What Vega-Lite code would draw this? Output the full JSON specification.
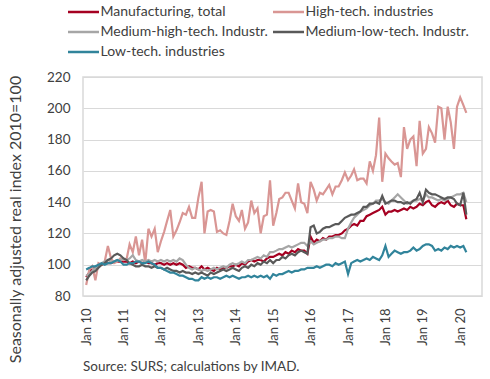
{
"$schema": "https://vega.github.io/schema/vega-lite/v6.json",
"width": 399,
"height": 219,
"autosize": {"type": "none"},
"padding": {"left": 83, "top": 77, "right": 8, "bottom": 83},
"config": {
  "font": "Lato",
  "view": {"stroke": "#D9D9D9", "strokeWidth": 1.5},
  "axis": {"labelColor": "#404040", "titleColor": "#404040", "domain": false, "ticks": false, "gridColor": "#D9D9D9", "gridWidth": 1.2}
},
"title": {"text": "Source: SURS; calculations by IMAD.", "orient": "bottom", "anchor": "start", "frame": "group", "fontSize": 13.5, "fontWeight": "normal", "color": "#404040", "offset": -3},
"data": {"values": [
{"t":"2010-01","s":"Manufacturing, total","v":92},{"t":"2010-02","s":"Manufacturing, total","v":95},{"t":"2010-03","s":"Manufacturing, total","v":98},{"t":"2010-04","s":"Manufacturing, total","v":98},{"t":"2010-05","s":"Manufacturing, total","v":99},{"t":"2010-06","s":"Manufacturing, total","v":100},{"t":"2010-07","s":"Manufacturing, total","v":101},{"t":"2010-08","s":"Manufacturing, total","v":101},{"t":"2010-09","s":"Manufacturing, total","v":101},{"t":"2010-10","s":"Manufacturing, total","v":102},{"t":"2010-11","s":"Manufacturing, total","v":102},{"t":"2010-12","s":"Manufacturing, total","v":102},
{"t":"2011-01","s":"Manufacturing, total","v":102},{"t":"2011-02","s":"Manufacturing, total","v":102},{"t":"2011-03","s":"Manufacturing, total","v":101},{"t":"2011-04","s":"Manufacturing, total","v":102},{"t":"2011-05","s":"Manufacturing, total","v":101},{"t":"2011-06","s":"Manufacturing, total","v":102},{"t":"2011-07","s":"Manufacturing, total","v":101},{"t":"2011-08","s":"Manufacturing, total","v":102},{"t":"2011-09","s":"Manufacturing, total","v":101},{"t":"2011-10","s":"Manufacturing, total","v":101},{"t":"2011-11","s":"Manufacturing, total","v":100},{"t":"2011-12","s":"Manufacturing, total","v":101},
{"t":"2012-01","s":"Manufacturing, total","v":101},{"t":"2012-02","s":"Manufacturing, total","v":100},{"t":"2012-03","s":"Manufacturing, total","v":101},{"t":"2012-04","s":"Manufacturing, total","v":100},{"t":"2012-05","s":"Manufacturing, total","v":101},{"t":"2012-06","s":"Manufacturing, total","v":100},{"t":"2012-07","s":"Manufacturing, total","v":101},{"t":"2012-08","s":"Manufacturing, total","v":100},{"t":"2012-09","s":"Manufacturing, total","v":98},{"t":"2012-10","s":"Manufacturing, total","v":99},{"t":"2012-11","s":"Manufacturing, total","v":98},{"t":"2012-12","s":"Manufacturing, total","v":98},
{"t":"2013-01","s":"Manufacturing, total","v":97},{"t":"2013-02","s":"Manufacturing, total","v":99},{"t":"2013-03","s":"Manufacturing, total","v":97},{"t":"2013-04","s":"Manufacturing, total","v":98},{"t":"2013-05","s":"Manufacturing, total","v":97},{"t":"2013-06","s":"Manufacturing, total","v":96},{"t":"2013-07","s":"Manufacturing, total","v":98},{"t":"2013-08","s":"Manufacturing, total","v":97},{"t":"2013-09","s":"Manufacturing, total","v":98},{"t":"2013-10","s":"Manufacturing, total","v":98},{"t":"2013-11","s":"Manufacturing, total","v":99},{"t":"2013-12","s":"Manufacturing, total","v":99},
{"t":"2014-01","s":"Manufacturing, total","v":100},{"t":"2014-02","s":"Manufacturing, total","v":99},{"t":"2014-03","s":"Manufacturing, total","v":101},{"t":"2014-04","s":"Manufacturing, total","v":100},{"t":"2014-05","s":"Manufacturing, total","v":102},{"t":"2014-06","s":"Manufacturing, total","v":103},{"t":"2014-07","s":"Manufacturing, total","v":102},{"t":"2014-08","s":"Manufacturing, total","v":103},{"t":"2014-09","s":"Manufacturing, total","v":103},{"t":"2014-10","s":"Manufacturing, total","v":102},{"t":"2014-11","s":"Manufacturing, total","v":104},{"t":"2014-12","s":"Manufacturing, total","v":105},
{"t":"2015-01","s":"Manufacturing, total","v":105},{"t":"2015-02","s":"Manufacturing, total","v":106},{"t":"2015-03","s":"Manufacturing, total","v":107},{"t":"2015-04","s":"Manufacturing, total","v":106},{"t":"2015-05","s":"Manufacturing, total","v":108},{"t":"2015-06","s":"Manufacturing, total","v":107},{"t":"2015-07","s":"Manufacturing, total","v":109},{"t":"2015-08","s":"Manufacturing, total","v":108},{"t":"2015-09","s":"Manufacturing, total","v":110},{"t":"2015-10","s":"Manufacturing, total","v":109},{"t":"2015-11","s":"Manufacturing, total","v":109},{"t":"2015-12","s":"Manufacturing, total","v":107},
{"t":"2016-01","s":"Manufacturing, total","v":118},{"t":"2016-02","s":"Manufacturing, total","v":114},{"t":"2016-03","s":"Manufacturing, total","v":116},{"t":"2016-04","s":"Manufacturing, total","v":115},{"t":"2016-05","s":"Manufacturing, total","v":117},{"t":"2016-06","s":"Manufacturing, total","v":116},{"t":"2016-07","s":"Manufacturing, total","v":118},{"t":"2016-08","s":"Manufacturing, total","v":118},{"t":"2016-09","s":"Manufacturing, total","v":119},{"t":"2016-10","s":"Manufacturing, total","v":119},{"t":"2016-11","s":"Manufacturing, total","v":120},{"t":"2016-12","s":"Manufacturing, total","v":122},
{"t":"2017-01","s":"Manufacturing, total","v":123},{"t":"2017-02","s":"Manufacturing, total","v":125},{"t":"2017-03","s":"Manufacturing, total","v":126},{"t":"2017-04","s":"Manufacturing, total","v":125},{"t":"2017-05","s":"Manufacturing, total","v":128},{"t":"2017-06","s":"Manufacturing, total","v":128},{"t":"2017-07","s":"Manufacturing, total","v":131},{"t":"2017-08","s":"Manufacturing, total","v":132},{"t":"2017-09","s":"Manufacturing, total","v":133},{"t":"2017-10","s":"Manufacturing, total","v":134},{"t":"2017-11","s":"Manufacturing, total","v":135},{"t":"2017-12","s":"Manufacturing, total","v":137},
{"t":"2018-01","s":"Manufacturing, total","v":132},{"t":"2018-02","s":"Manufacturing, total","v":134},{"t":"2018-03","s":"Manufacturing, total","v":134},{"t":"2018-04","s":"Manufacturing, total","v":135},{"t":"2018-05","s":"Manufacturing, total","v":134},{"t":"2018-06","s":"Manufacturing, total","v":135},{"t":"2018-07","s":"Manufacturing, total","v":136},{"t":"2018-08","s":"Manufacturing, total","v":135},{"t":"2018-09","s":"Manufacturing, total","v":137},{"t":"2018-10","s":"Manufacturing, total","v":136},{"t":"2018-11","s":"Manufacturing, total","v":137},{"t":"2018-12","s":"Manufacturing, total","v":139},
{"t":"2019-01","s":"Manufacturing, total","v":138},{"t":"2019-02","s":"Manufacturing, total","v":140},{"t":"2019-03","s":"Manufacturing, total","v":141},{"t":"2019-04","s":"Manufacturing, total","v":138},{"t":"2019-05","s":"Manufacturing, total","v":137},{"t":"2019-06","s":"Manufacturing, total","v":139},{"t":"2019-07","s":"Manufacturing, total","v":140},{"t":"2019-08","s":"Manufacturing, total","v":139},{"t":"2019-09","s":"Manufacturing, total","v":141},{"t":"2019-10","s":"Manufacturing, total","v":138},{"t":"2019-11","s":"Manufacturing, total","v":137},{"t":"2019-12","s":"Manufacturing, total","v":139},
{"t":"2020-01","s":"Manufacturing, total","v":138},{"t":"2020-02","s":"Manufacturing, total","v":138},{"t":"2020-03","s":"Manufacturing, total","v":129},
{"t":"2010-01","s":"High-tech. industries","v":87},{"t":"2010-02","s":"High-tech. industries","v":97},{"t":"2010-03","s":"High-tech. industries","v":99},{"t":"2010-04","s":"High-tech. industries","v":90},{"t":"2010-05","s":"High-tech. industries","v":101},{"t":"2010-06","s":"High-tech. industries","v":100},{"t":"2010-07","s":"High-tech. industries","v":102},{"t":"2010-08","s":"High-tech. industries","v":112},{"t":"2010-09","s":"High-tech. industries","v":104},{"t":"2010-10","s":"High-tech. industries","v":101},{"t":"2010-11","s":"High-tech. industries","v":102},{"t":"2010-12","s":"High-tech. industries","v":104},
{"t":"2011-01","s":"High-tech. industries","v":103},{"t":"2011-02","s":"High-tech. industries","v":104},{"t":"2011-03","s":"High-tech. industries","v":113},{"t":"2011-04","s":"High-tech. industries","v":108},{"t":"2011-05","s":"High-tech. industries","v":118},{"t":"2011-06","s":"High-tech. industries","v":106},{"t":"2011-07","s":"High-tech. industries","v":116},{"t":"2011-08","s":"High-tech. industries","v":101},{"t":"2011-09","s":"High-tech. industries","v":123},{"t":"2011-10","s":"High-tech. industries","v":118},{"t":"2011-11","s":"High-tech. industries","v":123},{"t":"2011-12","s":"High-tech. industries","v":108},
{"t":"2012-01","s":"High-tech. industries","v":115},{"t":"2012-02","s":"High-tech. industries","v":121},{"t":"2012-03","s":"High-tech. industries","v":128},{"t":"2012-04","s":"High-tech. industries","v":135},{"t":"2012-05","s":"High-tech. industries","v":118},{"t":"2012-06","s":"High-tech. industries","v":122},{"t":"2012-07","s":"High-tech. industries","v":127},{"t":"2012-08","s":"High-tech. industries","v":133},{"t":"2012-09","s":"High-tech. industries","v":132},{"t":"2012-10","s":"High-tech. industries","v":137},{"t":"2012-11","s":"High-tech. industries","v":130},{"t":"2012-12","s":"High-tech. industries","v":130},
{"t":"2013-01","s":"High-tech. industries","v":143},{"t":"2013-02","s":"High-tech. industries","v":153},{"t":"2013-03","s":"High-tech. industries","v":120},{"t":"2013-04","s":"High-tech. industries","v":134},{"t":"2013-05","s":"High-tech. industries","v":135},{"t":"2013-06","s":"High-tech. industries","v":134},{"t":"2013-07","s":"High-tech. industries","v":121},{"t":"2013-08","s":"High-tech. industries","v":122},{"t":"2013-09","s":"High-tech. industries","v":120},{"t":"2013-10","s":"High-tech. industries","v":119},{"t":"2013-11","s":"High-tech. industries","v":128},{"t":"2013-12","s":"High-tech. industries","v":139},
{"t":"2014-01","s":"High-tech. industries","v":131},{"t":"2014-02","s":"High-tech. industries","v":128},{"t":"2014-03","s":"High-tech. industries","v":135},{"t":"2014-04","s":"High-tech. industries","v":123},{"t":"2014-05","s":"High-tech. industries","v":127},{"t":"2014-06","s":"High-tech. industries","v":141},{"t":"2014-07","s":"High-tech. industries","v":133},{"t":"2014-08","s":"High-tech. industries","v":136},{"t":"2014-09","s":"High-tech. industries","v":120},{"t":"2014-10","s":"High-tech. industries","v":131},{"t":"2014-11","s":"High-tech. industries","v":132},{"t":"2014-12","s":"High-tech. industries","v":154},
{"t":"2015-01","s":"High-tech. industries","v":125},{"t":"2015-02","s":"High-tech. industries","v":133},{"t":"2015-03","s":"High-tech. industries","v":142},{"t":"2015-04","s":"High-tech. industries","v":143},{"t":"2015-05","s":"High-tech. industries","v":146},{"t":"2015-06","s":"High-tech. industries","v":146},{"t":"2015-07","s":"High-tech. industries","v":141},{"t":"2015-08","s":"High-tech. industries","v":136},{"t":"2015-09","s":"High-tech. industries","v":152},{"t":"2015-10","s":"High-tech. industries","v":140},{"t":"2015-11","s":"High-tech. industries","v":139},{"t":"2015-12","s":"High-tech. industries","v":133},
{"t":"2016-01","s":"High-tech. industries","v":153},{"t":"2016-02","s":"High-tech. industries","v":148},{"t":"2016-03","s":"High-tech. industries","v":141},{"t":"2016-04","s":"High-tech. industries","v":146},{"t":"2016-05","s":"High-tech. industries","v":145},{"t":"2016-06","s":"High-tech. industries","v":148},{"t":"2016-07","s":"High-tech. industries","v":151},{"t":"2016-08","s":"High-tech. industries","v":145},{"t":"2016-09","s":"High-tech. industries","v":150},{"t":"2016-10","s":"High-tech. industries","v":150},{"t":"2016-11","s":"High-tech. industries","v":154},{"t":"2016-12","s":"High-tech. industries","v":159},
{"t":"2017-01","s":"High-tech. industries","v":154},{"t":"2017-02","s":"High-tech. industries","v":157},{"t":"2017-03","s":"High-tech. industries","v":161},{"t":"2017-04","s":"High-tech. industries","v":154},{"t":"2017-05","s":"High-tech. industries","v":155},{"t":"2017-06","s":"High-tech. industries","v":155},{"t":"2017-07","s":"High-tech. industries","v":152},{"t":"2017-08","s":"High-tech. industries","v":166},{"t":"2017-09","s":"High-tech. industries","v":160},{"t":"2017-10","s":"High-tech. industries","v":170},{"t":"2017-11","s":"High-tech. industries","v":194},{"t":"2017-12","s":"High-tech. industries","v":153},
{"t":"2018-01","s":"High-tech. industries","v":171},{"t":"2018-02","s":"High-tech. industries","v":168},{"t":"2018-03","s":"High-tech. industries","v":166},{"t":"2018-04","s":"High-tech. industries","v":164},{"t":"2018-05","s":"High-tech. industries","v":165},{"t":"2018-06","s":"High-tech. industries","v":156},{"t":"2018-07","s":"High-tech. industries","v":188},{"t":"2018-08","s":"High-tech. industries","v":174},{"t":"2018-09","s":"High-tech. industries","v":180},{"t":"2018-10","s":"High-tech. industries","v":182},{"t":"2018-11","s":"High-tech. industries","v":163},{"t":"2018-12","s":"High-tech. industries","v":192},
{"t":"2019-01","s":"High-tech. industries","v":171},{"t":"2019-02","s":"High-tech. industries","v":174},{"t":"2019-03","s":"High-tech. industries","v":188},{"t":"2019-04","s":"High-tech. industries","v":184},{"t":"2019-05","s":"High-tech. industries","v":178},{"t":"2019-06","s":"High-tech. industries","v":201},{"t":"2019-07","s":"High-tech. industries","v":200},{"t":"2019-08","s":"High-tech. industries","v":180},{"t":"2019-09","s":"High-tech. industries","v":201},{"t":"2019-10","s":"High-tech. industries","v":191},{"t":"2019-11","s":"High-tech. industries","v":174},{"t":"2019-12","s":"High-tech. industries","v":201},
{"t":"2020-01","s":"High-tech. industries","v":207},{"t":"2020-02","s":"High-tech. industries","v":202},{"t":"2020-03","s":"High-tech. industries","v":197},
{"t":"2010-01","s":"Medium-high-tech. Industr.","v":93},{"t":"2010-02","s":"Medium-high-tech. Industr.","v":94},{"t":"2010-03","s":"Medium-high-tech. Industr.","v":96},{"t":"2010-04","s":"Medium-high-tech. Industr.","v":98},{"t":"2010-05","s":"Medium-high-tech. Industr.","v":99},{"t":"2010-06","s":"Medium-high-tech. Industr.","v":101},{"t":"2010-07","s":"Medium-high-tech. Industr.","v":102},{"t":"2010-08","s":"Medium-high-tech. Industr.","v":103},{"t":"2010-09","s":"Medium-high-tech. Industr.","v":102},{"t":"2010-10","s":"Medium-high-tech. Industr.","v":102},{"t":"2010-11","s":"Medium-high-tech. Industr.","v":103},{"t":"2010-12","s":"Medium-high-tech. Industr.","v":103},
{"t":"2011-01","s":"Medium-high-tech. Industr.","v":104},{"t":"2011-02","s":"Medium-high-tech. Industr.","v":103},{"t":"2011-03","s":"Medium-high-tech. Industr.","v":104},{"t":"2011-04","s":"Medium-high-tech. Industr.","v":106},{"t":"2011-05","s":"Medium-high-tech. Industr.","v":103},{"t":"2011-06","s":"Medium-high-tech. Industr.","v":102},{"t":"2011-07","s":"Medium-high-tech. Industr.","v":103},{"t":"2011-08","s":"Medium-high-tech. Industr.","v":102},{"t":"2011-09","s":"Medium-high-tech. Industr.","v":103},{"t":"2011-10","s":"Medium-high-tech. Industr.","v":102},{"t":"2011-11","s":"Medium-high-tech. Industr.","v":103},{"t":"2011-12","s":"Medium-high-tech. Industr.","v":102},
{"t":"2012-01","s":"Medium-high-tech. Industr.","v":103},{"t":"2012-02","s":"Medium-high-tech. Industr.","v":102},{"t":"2012-03","s":"Medium-high-tech. Industr.","v":103},{"t":"2012-04","s":"Medium-high-tech. Industr.","v":102},{"t":"2012-05","s":"Medium-high-tech. Industr.","v":103},{"t":"2012-06","s":"Medium-high-tech. Industr.","v":102},{"t":"2012-07","s":"Medium-high-tech. Industr.","v":104},{"t":"2012-08","s":"Medium-high-tech. Industr.","v":103},{"t":"2012-09","s":"Medium-high-tech. Industr.","v":100},{"t":"2012-10","s":"Medium-high-tech. Industr.","v":98},{"t":"2012-11","s":"Medium-high-tech. Industr.","v":97},{"t":"2012-12","s":"Medium-high-tech. Industr.","v":98},
{"t":"2013-01","s":"Medium-high-tech. Industr.","v":97},{"t":"2013-02","s":"Medium-high-tech. Industr.","v":96},{"t":"2013-03","s":"Medium-high-tech. Industr.","v":97},{"t":"2013-04","s":"Medium-high-tech. Industr.","v":96},{"t":"2013-05","s":"Medium-high-tech. Industr.","v":97},{"t":"2013-06","s":"Medium-high-tech. Industr.","v":98},{"t":"2013-07","s":"Medium-high-tech. Industr.","v":97},{"t":"2013-08","s":"Medium-high-tech. Industr.","v":98},{"t":"2013-09","s":"Medium-high-tech. Industr.","v":99},{"t":"2013-10","s":"Medium-high-tech. Industr.","v":98},{"t":"2013-11","s":"Medium-high-tech. Industr.","v":100},{"t":"2013-12","s":"Medium-high-tech. Industr.","v":101},
{"t":"2014-01","s":"Medium-high-tech. Industr.","v":100},{"t":"2014-02","s":"Medium-high-tech. Industr.","v":101},{"t":"2014-03","s":"Medium-high-tech. Industr.","v":102},{"t":"2014-04","s":"Medium-high-tech. Industr.","v":101},{"t":"2014-05","s":"Medium-high-tech. Industr.","v":103},{"t":"2014-06","s":"Medium-high-tech. Industr.","v":103},{"t":"2014-07","s":"Medium-high-tech. Industr.","v":104},{"t":"2014-08","s":"Medium-high-tech. Industr.","v":105},{"t":"2014-09","s":"Medium-high-tech. Industr.","v":104},{"t":"2014-10","s":"Medium-high-tech. Industr.","v":106},{"t":"2014-11","s":"Medium-high-tech. Industr.","v":105},{"t":"2014-12","s":"Medium-high-tech. Industr.","v":108},
{"t":"2015-01","s":"Medium-high-tech. Industr.","v":108},{"t":"2015-02","s":"Medium-high-tech. Industr.","v":109},{"t":"2015-03","s":"Medium-high-tech. Industr.","v":110},{"t":"2015-04","s":"Medium-high-tech. Industr.","v":110},{"t":"2015-05","s":"Medium-high-tech. Industr.","v":111},{"t":"2015-06","s":"Medium-high-tech. Industr.","v":112},{"t":"2015-07","s":"Medium-high-tech. Industr.","v":111},{"t":"2015-08","s":"Medium-high-tech. Industr.","v":112},{"t":"2015-09","s":"Medium-high-tech. Industr.","v":113},{"t":"2015-10","s":"Medium-high-tech. Industr.","v":114},{"t":"2015-11","s":"Medium-high-tech. Industr.","v":114},{"t":"2015-12","s":"Medium-high-tech. Industr.","v":112},
{"t":"2016-01","s":"Medium-high-tech. Industr.","v":115},{"t":"2016-02","s":"Medium-high-tech. Industr.","v":113},{"t":"2016-03","s":"Medium-high-tech. Industr.","v":114},{"t":"2016-04","s":"Medium-high-tech. Industr.","v":115},{"t":"2016-05","s":"Medium-high-tech. Industr.","v":116},{"t":"2016-06","s":"Medium-high-tech. Industr.","v":116},{"t":"2016-07","s":"Medium-high-tech. Industr.","v":117},{"t":"2016-08","s":"Medium-high-tech. Industr.","v":117},{"t":"2016-09","s":"Medium-high-tech. Industr.","v":118},{"t":"2016-10","s":"Medium-high-tech. Industr.","v":118},{"t":"2016-11","s":"Medium-high-tech. Industr.","v":117},{"t":"2016-12","s":"Medium-high-tech. Industr.","v":117},
{"t":"2017-01","s":"Medium-high-tech. Industr.","v":123},{"t":"2017-02","s":"Medium-high-tech. Industr.","v":127},{"t":"2017-03","s":"Medium-high-tech. Industr.","v":130},{"t":"2017-04","s":"Medium-high-tech. Industr.","v":132},{"t":"2017-05","s":"Medium-high-tech. Industr.","v":134},{"t":"2017-06","s":"Medium-high-tech. Industr.","v":135},{"t":"2017-07","s":"Medium-high-tech. Industr.","v":136},{"t":"2017-08","s":"Medium-high-tech. Industr.","v":138},{"t":"2017-09","s":"Medium-high-tech. Industr.","v":139},{"t":"2017-10","s":"Medium-high-tech. Industr.","v":141},{"t":"2017-11","s":"Medium-high-tech. Industr.","v":141},{"t":"2017-12","s":"Medium-high-tech. Industr.","v":142},
{"t":"2018-01","s":"Medium-high-tech. Industr.","v":140},{"t":"2018-02","s":"Medium-high-tech. Industr.","v":139},{"t":"2018-03","s":"Medium-high-tech. Industr.","v":141},{"t":"2018-04","s":"Medium-high-tech. Industr.","v":143},{"t":"2018-05","s":"Medium-high-tech. Industr.","v":145},{"t":"2018-06","s":"Medium-high-tech. Industr.","v":143},{"t":"2018-07","s":"Medium-high-tech. Industr.","v":141},{"t":"2018-08","s":"Medium-high-tech. Industr.","v":139},{"t":"2018-09","s":"Medium-high-tech. Industr.","v":140},{"t":"2018-10","s":"Medium-high-tech. Industr.","v":141},{"t":"2018-11","s":"Medium-high-tech. Industr.","v":141},{"t":"2018-12","s":"Medium-high-tech. Industr.","v":142},
{"t":"2019-01","s":"Medium-high-tech. Industr.","v":141},{"t":"2019-02","s":"Medium-high-tech. Industr.","v":145},{"t":"2019-03","s":"Medium-high-tech. Industr.","v":143},{"t":"2019-04","s":"Medium-high-tech. Industr.","v":143},{"t":"2019-05","s":"Medium-high-tech. Industr.","v":142},{"t":"2019-06","s":"Medium-high-tech. Industr.","v":141},{"t":"2019-07","s":"Medium-high-tech. Industr.","v":142},{"t":"2019-08","s":"Medium-high-tech. Industr.","v":141},{"t":"2019-09","s":"Medium-high-tech. Industr.","v":142},{"t":"2019-10","s":"Medium-high-tech. Industr.","v":143},{"t":"2019-11","s":"Medium-high-tech. Industr.","v":144},{"t":"2019-12","s":"Medium-high-tech. Industr.","v":145},
{"t":"2020-01","s":"Medium-high-tech. Industr.","v":145},{"t":"2020-02","s":"Medium-high-tech. Industr.","v":146},{"t":"2020-03","s":"Medium-high-tech. Industr.","v":140},
{"t":"2010-01","s":"Medium-low-tech. Industr.","v":90},{"t":"2010-02","s":"Medium-low-tech. Industr.","v":93},{"t":"2010-03","s":"Medium-low-tech. Industr.","v":95},{"t":"2010-04","s":"Medium-low-tech. Industr.","v":96},{"t":"2010-05","s":"Medium-low-tech. Industr.","v":98},{"t":"2010-06","s":"Medium-low-tech. Industr.","v":100},{"t":"2010-07","s":"Medium-low-tech. Industr.","v":101},{"t":"2010-08","s":"Medium-low-tech. Industr.","v":103},{"t":"2010-09","s":"Medium-low-tech. Industr.","v":104},{"t":"2010-10","s":"Medium-low-tech. Industr.","v":106},{"t":"2010-11","s":"Medium-low-tech. Industr.","v":107},{"t":"2010-12","s":"Medium-low-tech. Industr.","v":106},
{"t":"2011-01","s":"Medium-low-tech. Industr.","v":104},{"t":"2011-02","s":"Medium-low-tech. Industr.","v":103},{"t":"2011-03","s":"Medium-low-tech. Industr.","v":101},{"t":"2011-04","s":"Medium-low-tech. Industr.","v":100},{"t":"2011-05","s":"Medium-low-tech. Industr.","v":99},{"t":"2011-06","s":"Medium-low-tech. Industr.","v":99},{"t":"2011-07","s":"Medium-low-tech. Industr.","v":100},{"t":"2011-08","s":"Medium-low-tech. Industr.","v":99},{"t":"2011-09","s":"Medium-low-tech. Industr.","v":99},{"t":"2011-10","s":"Medium-low-tech. Industr.","v":98},{"t":"2011-11","s":"Medium-low-tech. Industr.","v":99},{"t":"2011-12","s":"Medium-low-tech. Industr.","v":98},
{"t":"2012-01","s":"Medium-low-tech. Industr.","v":98},{"t":"2012-02","s":"Medium-low-tech. Industr.","v":97},{"t":"2012-03","s":"Medium-low-tech. Industr.","v":98},{"t":"2012-04","s":"Medium-low-tech. Industr.","v":97},{"t":"2012-05","s":"Medium-low-tech. Industr.","v":96},{"t":"2012-06","s":"Medium-low-tech. Industr.","v":96},{"t":"2012-07","s":"Medium-low-tech. Industr.","v":95},{"t":"2012-08","s":"Medium-low-tech. Industr.","v":96},{"t":"2012-09","s":"Medium-low-tech. Industr.","v":95},{"t":"2012-10","s":"Medium-low-tech. Industr.","v":95},{"t":"2012-11","s":"Medium-low-tech. Industr.","v":94},{"t":"2012-12","s":"Medium-low-tech. Industr.","v":95},
{"t":"2013-01","s":"Medium-low-tech. Industr.","v":94},{"t":"2013-02","s":"Medium-low-tech. Industr.","v":95},{"t":"2013-03","s":"Medium-low-tech. Industr.","v":94},{"t":"2013-04","s":"Medium-low-tech. Industr.","v":93},{"t":"2013-05","s":"Medium-low-tech. Industr.","v":95},{"t":"2013-06","s":"Medium-low-tech. Industr.","v":94},{"t":"2013-07","s":"Medium-low-tech. Industr.","v":95},{"t":"2013-08","s":"Medium-low-tech. Industr.","v":96},{"t":"2013-09","s":"Medium-low-tech. Industr.","v":97},{"t":"2013-10","s":"Medium-low-tech. Industr.","v":96},{"t":"2013-11","s":"Medium-low-tech. Industr.","v":97},{"t":"2013-12","s":"Medium-low-tech. Industr.","v":98},
{"t":"2014-01","s":"Medium-low-tech. Industr.","v":97},{"t":"2014-02","s":"Medium-low-tech. Industr.","v":96},{"t":"2014-03","s":"Medium-low-tech. Industr.","v":98},{"t":"2014-04","s":"Medium-low-tech. Industr.","v":99},{"t":"2014-05","s":"Medium-low-tech. Industr.","v":98},{"t":"2014-06","s":"Medium-low-tech. Industr.","v":100},{"t":"2014-07","s":"Medium-low-tech. Industr.","v":99},{"t":"2014-08","s":"Medium-low-tech. Industr.","v":101},{"t":"2014-09","s":"Medium-low-tech. Industr.","v":100},{"t":"2014-10","s":"Medium-low-tech. Industr.","v":102},{"t":"2014-11","s":"Medium-low-tech. Industr.","v":101},{"t":"2014-12","s":"Medium-low-tech. Industr.","v":103},
{"t":"2015-01","s":"Medium-low-tech. Industr.","v":101},{"t":"2015-02","s":"Medium-low-tech. Industr.","v":103},{"t":"2015-03","s":"Medium-low-tech. Industr.","v":103},{"t":"2015-04","s":"Medium-low-tech. Industr.","v":105},{"t":"2015-05","s":"Medium-low-tech. Industr.","v":104},{"t":"2015-06","s":"Medium-low-tech. Industr.","v":106},{"t":"2015-07","s":"Medium-low-tech. Industr.","v":107},{"t":"2015-08","s":"Medium-low-tech. Industr.","v":106},{"t":"2015-09","s":"Medium-low-tech. Industr.","v":108},{"t":"2015-10","s":"Medium-low-tech. Industr.","v":109},{"t":"2015-11","s":"Medium-low-tech. Industr.","v":108},{"t":"2015-12","s":"Medium-low-tech. Industr.","v":107},
{"t":"2016-01","s":"Medium-low-tech. Industr.","v":124},{"t":"2016-02","s":"Medium-low-tech. Industr.","v":125},{"t":"2016-03","s":"Medium-low-tech. Industr.","v":120},{"t":"2016-04","s":"Medium-low-tech. Industr.","v":121},{"t":"2016-05","s":"Medium-low-tech. Industr.","v":123},{"t":"2016-06","s":"Medium-low-tech. Industr.","v":124},{"t":"2016-07","s":"Medium-low-tech. Industr.","v":124},{"t":"2016-08","s":"Medium-low-tech. Industr.","v":125},{"t":"2016-09","s":"Medium-low-tech. Industr.","v":126},{"t":"2016-10","s":"Medium-low-tech. Industr.","v":126},{"t":"2016-11","s":"Medium-low-tech. Industr.","v":128},{"t":"2016-12","s":"Medium-low-tech. Industr.","v":130},
{"t":"2017-01","s":"Medium-low-tech. Industr.","v":131},{"t":"2017-02","s":"Medium-low-tech. Industr.","v":132},{"t":"2017-03","s":"Medium-low-tech. Industr.","v":132},{"t":"2017-04","s":"Medium-low-tech. Industr.","v":133},{"t":"2017-05","s":"Medium-low-tech. Industr.","v":134},{"t":"2017-06","s":"Medium-low-tech. Industr.","v":137},{"t":"2017-07","s":"Medium-low-tech. Industr.","v":137},{"t":"2017-08","s":"Medium-low-tech. Industr.","v":139},{"t":"2017-09","s":"Medium-low-tech. Industr.","v":139},{"t":"2017-10","s":"Medium-low-tech. Industr.","v":140},{"t":"2017-11","s":"Medium-low-tech. Industr.","v":139},{"t":"2017-12","s":"Medium-low-tech. Industr.","v":144},
{"t":"2018-01","s":"Medium-low-tech. Industr.","v":139},{"t":"2018-02","s":"Medium-low-tech. Industr.","v":140},{"t":"2018-03","s":"Medium-low-tech. Industr.","v":141},{"t":"2018-04","s":"Medium-low-tech. Industr.","v":141},{"t":"2018-05","s":"Medium-low-tech. Industr.","v":140},{"t":"2018-06","s":"Medium-low-tech. Industr.","v":140},{"t":"2018-07","s":"Medium-low-tech. Industr.","v":139},{"t":"2018-08","s":"Medium-low-tech. Industr.","v":140},{"t":"2018-09","s":"Medium-low-tech. Industr.","v":139},{"t":"2018-10","s":"Medium-low-tech. Industr.","v":141},{"t":"2018-11","s":"Medium-low-tech. Industr.","v":142},{"t":"2018-12","s":"Medium-low-tech. Industr.","v":146},
{"t":"2019-01","s":"Medium-low-tech. Industr.","v":140},{"t":"2019-02","s":"Medium-low-tech. Industr.","v":148},{"t":"2019-03","s":"Medium-low-tech. Industr.","v":146},{"t":"2019-04","s":"Medium-low-tech. Industr.","v":145},{"t":"2019-05","s":"Medium-low-tech. Industr.","v":145},{"t":"2019-06","s":"Medium-low-tech. Industr.","v":144},{"t":"2019-07","s":"Medium-low-tech. Industr.","v":143},{"t":"2019-08","s":"Medium-low-tech. Industr.","v":142},{"t":"2019-09","s":"Medium-low-tech. Industr.","v":143},{"t":"2019-10","s":"Medium-low-tech. Industr.","v":143},{"t":"2019-11","s":"Medium-low-tech. Industr.","v":142},{"t":"2019-12","s":"Medium-low-tech. Industr.","v":139},
{"t":"2020-01","s":"Medium-low-tech. Industr.","v":138},{"t":"2020-02","s":"Medium-low-tech. Industr.","v":146},{"t":"2020-03","s":"Medium-low-tech. Industr.","v":132},
{"t":"2010-01","s":"Low-tech. industries","v":97},{"t":"2010-02","s":"Low-tech. industries","v":98},{"t":"2010-03","s":"Low-tech. industries","v":99},{"t":"2010-04","s":"Low-tech. industries","v":99},{"t":"2010-05","s":"Low-tech. industries","v":100},{"t":"2010-06","s":"Low-tech. industries","v":101},{"t":"2010-07","s":"Low-tech. industries","v":100},{"t":"2010-08","s":"Low-tech. industries","v":101},{"t":"2010-09","s":"Low-tech. industries","v":101},{"t":"2010-10","s":"Low-tech. industries","v":102},{"t":"2010-11","s":"Low-tech. industries","v":103},{"t":"2010-12","s":"Low-tech. industries","v":102},
{"t":"2011-01","s":"Low-tech. industries","v":100},{"t":"2011-02","s":"Low-tech. industries","v":100},{"t":"2011-03","s":"Low-tech. industries","v":101},{"t":"2011-04","s":"Low-tech. industries","v":101},{"t":"2011-05","s":"Low-tech. industries","v":102},{"t":"2011-06","s":"Low-tech. industries","v":102},{"t":"2011-07","s":"Low-tech. industries","v":101},{"t":"2011-08","s":"Low-tech. industries","v":101},{"t":"2011-09","s":"Low-tech. industries","v":102},{"t":"2011-10","s":"Low-tech. industries","v":101},{"t":"2011-11","s":"Low-tech. industries","v":100},{"t":"2011-12","s":"Low-tech. industries","v":98},
{"t":"2012-01","s":"Low-tech. industries","v":98},{"t":"2012-02","s":"Low-tech. industries","v":97},{"t":"2012-03","s":"Low-tech. industries","v":96},{"t":"2012-04","s":"Low-tech. industries","v":95},{"t":"2012-05","s":"Low-tech. industries","v":95},{"t":"2012-06","s":"Low-tech. industries","v":94},{"t":"2012-07","s":"Low-tech. industries","v":93},{"t":"2012-08","s":"Low-tech. industries","v":93},{"t":"2012-09","s":"Low-tech. industries","v":92},{"t":"2012-10","s":"Low-tech. industries","v":91},{"t":"2012-11","s":"Low-tech. industries","v":91},{"t":"2012-12","s":"Low-tech. industries","v":90},
{"t":"2013-01","s":"Low-tech. industries","v":90},{"t":"2013-02","s":"Low-tech. industries","v":92},{"t":"2013-03","s":"Low-tech. industries","v":91},{"t":"2013-04","s":"Low-tech. industries","v":92},{"t":"2013-05","s":"Low-tech. industries","v":91},{"t":"2013-06","s":"Low-tech. industries","v":92},{"t":"2013-07","s":"Low-tech. industries","v":92},{"t":"2013-08","s":"Low-tech. industries","v":91},{"t":"2013-09","s":"Low-tech. industries","v":92},{"t":"2013-10","s":"Low-tech. industries","v":93},{"t":"2013-11","s":"Low-tech. industries","v":92},{"t":"2013-12","s":"Low-tech. industries","v":93},
{"t":"2014-01","s":"Low-tech. industries","v":92},{"t":"2014-02","s":"Low-tech. industries","v":91},{"t":"2014-03","s":"Low-tech. industries","v":92},{"t":"2014-04","s":"Low-tech. industries","v":92},{"t":"2014-05","s":"Low-tech. industries","v":93},{"t":"2014-06","s":"Low-tech. industries","v":92},{"t":"2014-07","s":"Low-tech. industries","v":93},{"t":"2014-08","s":"Low-tech. industries","v":92},{"t":"2014-09","s":"Low-tech. industries","v":93},{"t":"2014-10","s":"Low-tech. industries","v":92},{"t":"2014-11","s":"Low-tech. industries","v":93},{"t":"2014-12","s":"Low-tech. industries","v":91},
{"t":"2015-01","s":"Low-tech. industries","v":94},{"t":"2015-02","s":"Low-tech. industries","v":93},{"t":"2015-03","s":"Low-tech. industries","v":94},{"t":"2015-04","s":"Low-tech. industries","v":94},{"t":"2015-05","s":"Low-tech. industries","v":95},{"t":"2015-06","s":"Low-tech. industries","v":96},{"t":"2015-07","s":"Low-tech. industries","v":95},{"t":"2015-08","s":"Low-tech. industries","v":96},{"t":"2015-09","s":"Low-tech. industries","v":96},{"t":"2015-10","s":"Low-tech. industries","v":97},{"t":"2015-11","s":"Low-tech. industries","v":97},{"t":"2015-12","s":"Low-tech. industries","v":98},
{"t":"2016-01","s":"Low-tech. industries","v":98},{"t":"2016-02","s":"Low-tech. industries","v":98},{"t":"2016-03","s":"Low-tech. industries","v":99},{"t":"2016-04","s":"Low-tech. industries","v":98},{"t":"2016-05","s":"Low-tech. industries","v":99},{"t":"2016-06","s":"Low-tech. industries","v":100},{"t":"2016-07","s":"Low-tech. industries","v":100},{"t":"2016-08","s":"Low-tech. industries","v":99},{"t":"2016-09","s":"Low-tech. industries","v":101},{"t":"2016-10","s":"Low-tech. industries","v":100},{"t":"2016-11","s":"Low-tech. industries","v":101},{"t":"2016-12","s":"Low-tech. industries","v":102},
{"t":"2017-01","s":"Low-tech. industries","v":94},{"t":"2017-02","s":"Low-tech. industries","v":101},{"t":"2017-03","s":"Low-tech. industries","v":102},{"t":"2017-04","s":"Low-tech. industries","v":103},{"t":"2017-05","s":"Low-tech. industries","v":102},{"t":"2017-06","s":"Low-tech. industries","v":103},{"t":"2017-07","s":"Low-tech. industries","v":104},{"t":"2017-08","s":"Low-tech. industries","v":103},{"t":"2017-09","s":"Low-tech. industries","v":105},{"t":"2017-10","s":"Low-tech. industries","v":104},{"t":"2017-11","s":"Low-tech. industries","v":103},{"t":"2017-12","s":"Low-tech. industries","v":106},
{"t":"2018-01","s":"Low-tech. industries","v":112},{"t":"2018-02","s":"Low-tech. industries","v":105},{"t":"2018-03","s":"Low-tech. industries","v":107},{"t":"2018-04","s":"Low-tech. industries","v":109},{"t":"2018-05","s":"Low-tech. industries","v":108},{"t":"2018-06","s":"Low-tech. industries","v":107},{"t":"2018-07","s":"Low-tech. industries","v":108},{"t":"2018-08","s":"Low-tech. industries","v":108},{"t":"2018-09","s":"Low-tech. industries","v":109},{"t":"2018-10","s":"Low-tech. industries","v":111},{"t":"2018-11","s":"Low-tech. industries","v":109},{"t":"2018-12","s":"Low-tech. industries","v":110},
{"t":"2019-01","s":"Low-tech. industries","v":112},{"t":"2019-02","s":"Low-tech. industries","v":113},{"t":"2019-03","s":"Low-tech. industries","v":113},{"t":"2019-04","s":"Low-tech. industries","v":112},{"t":"2019-05","s":"Low-tech. industries","v":109},{"t":"2019-06","s":"Low-tech. industries","v":110},{"t":"2019-07","s":"Low-tech. industries","v":109},{"t":"2019-08","s":"Low-tech. industries","v":111},{"t":"2019-09","s":"Low-tech. industries","v":110},{"t":"2019-10","s":"Low-tech. industries","v":112},{"t":"2019-11","s":"Low-tech. industries","v":111},{"t":"2019-12","s":"Low-tech. industries","v":112},
{"t":"2020-01","s":"Low-tech. industries","v":111},{"t":"2020-02","s":"Low-tech. industries","v":112},{"t":"2020-03","s":"Low-tech. industries","v":108}
]},
"mark": {"type": "line", "strokeWidth": 2.2},
"encoding": {
  "x": {"field": "t", "type": "temporal",
    "scale": {"type": "utc", "nice": false, "domain": [{"year": 2009, "month": 12, "date": 1, "utc": true}, {"year": 2020, "month": 8, "date": 1, "utc": true}]},
    "axis": {"title": null, "grid": false, "labelExpr": "utcFormat(datum.value, '%b %y')", "tickCount": {"interval": "year", "step": 1}, "labelAngle": 270, "labelPadding": 12, "labelFontSize": 13}},
  "y": {"field": "v", "type": "quantitative",
    "scale": {"domain": [80, 220], "nice": false, "zero": false},
    "axis": {"values": [80, 100, 120, 140, 160, 180, 200, 220], "title": "Seasonally adjusted real index 2010=100", "titleFontSize": 16, "titleFontWeight": "normal", "titleAngle": 270, "titleX": -68, "titleY": 142, "titleAlign": "center", "titleBaseline": "middle", "labelPadding": 13, "labelFontSize": 13.5}},
  "color": {"field": "s", "type": "nominal",
    "scale": {"domain": ["Manufacturing, total", "High-tech. industries", "Medium-high-tech. Industr.", "Medium-low-tech. Industr.", "Low-tech. industries"], "range": ["#A50021", "#D99694", "#A6A6A6", "#595959", "#31849B"]},
    "legend": {"title": null, "orient": "none", "direction": "horizontal", "legendX": -16.5, "legendY": -75, "columns": 2, "padding": 0, "symbolType": "stroke", "symbolSize": 961, "symbolStrokeWidth": 2.5, "clipHeight": 20, "labelOffset": 0, "labelFontSize": 14, "labelColor": "#404040", "columnPadding": 3, "rowPadding": 0, "labelLimit": 300}}
}
}
